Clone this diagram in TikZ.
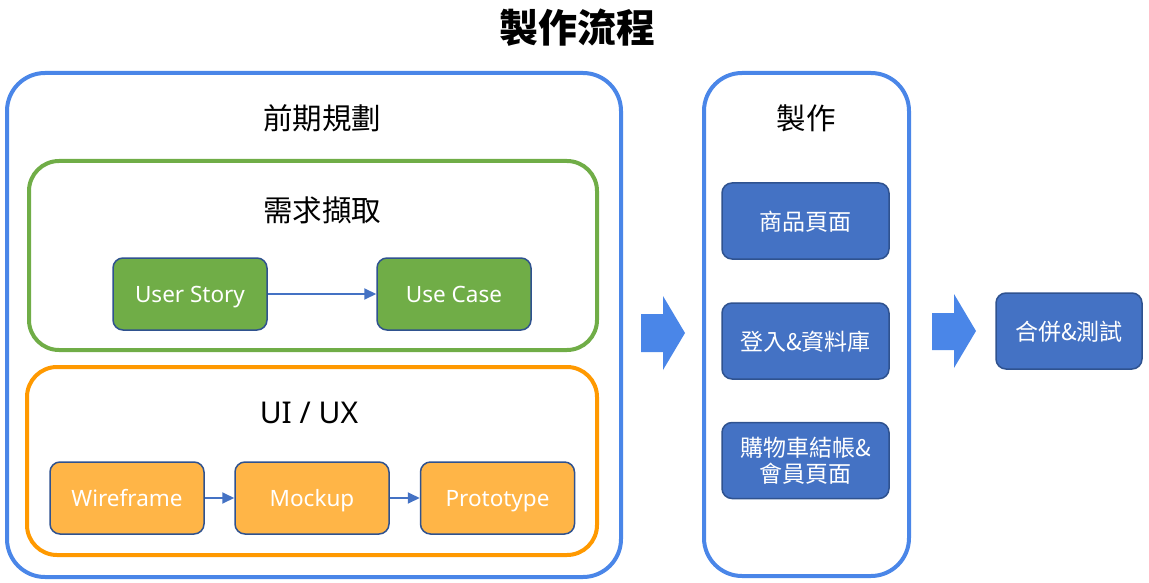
\documentclass[tikz,border=0pt]{standalone}
\usepackage{fontspec}
\setmainfont{Noto Sans CJK TC}
\newfontfamily\latinf{Noto Sans}
\usetikzlibrary{arrows.meta}
\definecolor{outerblue}{RGB}{74,134,232}
\definecolor{grn}{RGB}{112,173,71}
\definecolor{orng}{RGB}{255,153,0}
\definecolor{orfill}{RGB}{255,181,71}
\definecolor{bfill}{RGB}{68,114,196}
\definecolor{bdr}{RGB}{47,82,143}
\tikzset{
  container/.style={draw, line width=4pt, rounded corners=38pt, inner sep=0pt},
  boxbase/.style={draw=bdr, line width=1.5pt, rounded corners=10pt, inner sep=0pt,
     text=white, align=center},
  latinlabel/.style={font=\latinf\fontsize{22.5}{26}\selectfont, text height=16pt, text depth=0pt},
  greenbox/.style={boxbase, fill=grn, minimum width=154pt, minimum height=72pt, latinlabel},
  orangebox/.style={boxbase, fill=orfill, minimum width=154pt, minimum height=72pt, latinlabel},
  bluebox/.style={boxbase, fill=bfill, minimum width=167pt, minimum height=76pt, font=\fontsize{23}{26}\selectfont},
  cjkline/.style={text height=20pt, text depth=2pt},
  heading/.style={inner sep=0pt, font=\fontsize{29.5}{34}\selectfont, text=black, text height=26pt, text depth=3.5pt},
  conn/.style={draw=bfill, line width=2pt, -{Triangle[length=12pt,width=11pt]}, shorten >=0pt},
  blockarrow/.style={fill=outerblue},
}
\begin{document}
\begin{tikzpicture}[x=1pt,y=-1pt]
\useasboundingbox (0,0) rectangle (1149,583);
% title
\node[inner sep=0pt, font=\fontsize{39}{44}\selectfont\bfseries, text height=34pt, text depth=5pt] (title) at (577,28) {製作流程};
% containers
\node[container, draw=outerblue, minimum width=614pt, minimum height=504pt] (plan) at (314,325) {};
\node[container, draw=grn, rounded corners=30pt, minimum width=568pt, minimum height=189pt] (req) at (313,255.5) {};
\node[container, draw=orng, rounded corners=30pt, minimum width=570pt, minimum height=188pt] (ui) at (312,461) {};
\node[container, draw=outerblue, minimum width=205pt, minimum height=503pt] (make) at (806.5,324.5) {};
% headings
\node[heading] (planh) at (322,118) {前期規劃};
\node[heading] (reqh) at (322,210) {需求擷取};
\node[heading, font=\latinf\fontsize{30}{34}\selectfont, text height=21pt, text depth=0pt] (uih) at (309,413) {UI / UX};
\node[heading] (makeh) at (806,118) {製作};
% green boxes
\node[greenbox] (us) at (190,294) {User Story};
\node[greenbox] (uc) at (454,294) {Use Case};
\draw[conn] (us) -- (uc);
% orange boxes
\node[orangebox] (wf) at (127,498) {Wireframe};
\node[orangebox] (mk) at (312,498) {Mockup};
\node[orangebox] (pt) at (497.5,498) {Prototype};
\draw[conn] (wf) -- (mk);
\draw[conn] (mk) -- (pt);
% blue boxes
\node[bluebox, cjkline] (prod) at (805.5,221) {商品頁面};
\node[bluebox, cjkline] (login) at (805.5,341) {登入\&資料庫};
\node[bluebox] (cart) at (805.5,460.5) {購物車結帳\&\\會員頁面};
\node[bluebox, cjkline, minimum width=146pt, minimum height=76pt] (merge) at (1069,331) {合併\&測試};
% block arrows
\fill[blockarrow] (641,314) -- (663,314) -- (663,296) -- (685,333) -- (663,370) -- (663,352) -- (641,352) -- cycle;
\fill[blockarrow] (932,313) -- (954,313) -- (954,294) -- (976,331) -- (954,368) -- (954,350) -- (932,350) -- cycle;
\end{tikzpicture}
\end{document}
